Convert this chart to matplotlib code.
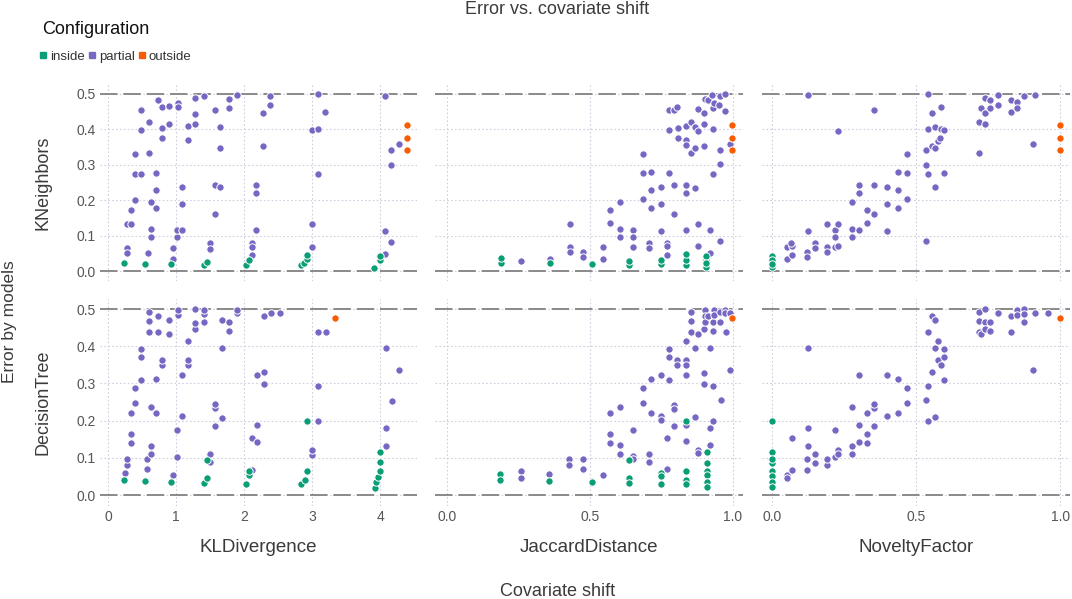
import matplotlib
matplotlib.use("Agg")
import matplotlib.pyplot as plt
from matplotlib.lines import Line2D

plt.rcParams["font.family"] = ["Liberation Sans", "DejaVu Sans"]

# colours per configuration
config_names = ["inside", "partial", "outside"]
config_colors = {"inside": "#0a9e76", "partial": "#7767c3", "outside": "#f75c03"}

row_names = ["KNeighbors", "DecisionTree"]
col_names = ["KLDivergence", "JaccardDistance", "NoveltyFactor"]

# ---- KNeighbors / KLDivergence
kn_kl_partial_x = [0.27, 0.33, 0.27, 0.27, 0.33, 0.40, 0.40, 0.49, 0.40, 0.49, 0.49, 0.60, 0.60,
                   0.63, 0.63, 0.63, 0.58, 0.70, 0.70, 0.70, 0.73, 0.79, 0.79, 0.79, 0.90, 0.90,
                   0.96, 0.96, 1.01, 1.01, 1.08, 1.03, 1.03, 1.08, 1.08, 1.17, 1.17, 1.28, 1.28,
                   1.28, 1.41, 1.50, 1.50, 1.57, 1.57, 1.57, 1.65, 1.65, 1.65, 1.77, 1.77, 1.90,
                   2.12, 2.12, 2.12, 2.18, 2.18, 2.18, 2.28, 2.28, 2.38, 2.38, 2.99, 2.99, 2.99,
                   3.08, 3.08, 3.08, 3.19, 4.07, 4.07, 4.07, 4.16, 4.16, 4.16, 4.27]
kn_kl_partial_y = [0.132, 0.134, 0.066, 0.052, 0.171, 0.202, 0.275, 0.275, 0.330, 0.399, 0.456, 0.422, 0.333,
                   0.195, 0.119, 0.096, 0.052, 0.278, 0.228, 0.178, 0.482, 0.462, 0.403, 0.375, 0.465, 0.414,
                   0.066, 0.033, 0.096, 0.115, 0.115, 0.475, 0.462, 0.236, 0.190, 0.410, 0.370, 0.489, 0.444,
                   0.416, 0.493, 0.078, 0.063, 0.456, 0.243, 0.162, 0.407, 0.348, 0.236, 0.485, 0.459, 0.498,
                   0.080, 0.069, 0.044, 0.242, 0.220, 0.116, 0.446, 0.354, 0.495, 0.469, 0.397, 0.132, 0.069,
                   0.500, 0.401, 0.273, 0.450, 0.495, 0.114, 0.049, 0.342, 0.300, 0.082, 0.359]
kn_kl_inside_x = [0.235, 0.54, 0.92, 1.41, 1.46, 2.02, 2.07, 2.83, 2.88, 2.92, 2.92, 3.91, 4.00, 4.00]
kn_kl_inside_y = [0.023, 0.020, 0.020, 0.016, 0.026, 0.017, 0.031, 0.016, 0.022, 0.033, 0.045, 0.009, 0.031, 0.043]
kn_kl_outside_x = [4.40, 4.40, 4.40]
kn_kl_outside_y = [0.412, 0.375, 0.342]

# ---- DecisionTree / KLDivergence
dt_kl_partial_x = [0.25, 0.275, 0.275, 0.33, 0.33, 0.33, 0.40, 0.40, 0.49, 0.49, 0.49, 0.575, 0.575,
                   0.60, 0.60, 0.60, 0.63, 0.63, 0.63, 0.70, 0.70, 0.73, 0.73, 0.79, 0.79, 0.90, 0.90,
                   0.96, 1.01, 1.01, 1.03, 1.03, 1.09, 1.09, 1.17, 1.17, 1.17, 1.28, 1.28, 1.28, 1.415,
                   1.415, 1.415, 1.50, 1.50, 1.57, 1.57, 1.57, 1.67, 1.67, 1.67, 1.77, 1.77, 1.90, 1.90,
                   2.12, 2.12, 2.19, 2.19, 2.19, 2.285, 2.285, 2.285, 2.39, 2.52, 3.00, 3.00, 3.09, 3.09,
                   3.09, 3.20, 4.08, 4.08, 4.08, 4.17, 4.275]
dt_kl_partial_y = [0.060, 0.080, 0.097, 0.139, 0.163, 0.221, 0.248, 0.287, 0.310, 0.372, 0.393, 0.071, 0.097,
                   0.439, 0.467, 0.492, 0.110, 0.133, 0.237, 0.221, 0.312, 0.438, 0.481, 0.349, 0.363, 0.432, 0.470,
                   0.054, 0.176, 0.102, 0.485, 0.497, 0.213, 0.324, 0.349, 0.363, 0.414, 0.446, 0.463, 0.499, 0.464,
                   0.487, 0.497, 0.088, 0.111, 0.185, 0.234, 0.245, 0.208, 0.395, 0.470, 0.441, 0.466, 0.488, 0.497,
                   0.153, 0.068, 0.144, 0.189, 0.322, 0.330, 0.298, 0.480, 0.490, 0.488, 0.109, 0.121, 0.4375, 0.293,
                   0.200, 0.438, 0.181, 0.133, 0.395, 0.254, 0.337]
dt_kl_inside_x = [0.236, 0.54, 0.92, 1.41, 1.45, 1.45, 2.03, 2.07, 2.07, 2.83, 2.89, 2.92, 2.92,
                  3.92, 3.93, 3.96, 4.00, 4.00, 4.00]
dt_kl_inside_y = [0.040, 0.0375, 0.036, 0.032, 0.046, 0.095, 0.030, 0.053, 0.064, 0.030, 0.042, 0.064, 0.200,
                  0.020, 0.035, 0.049, 0.064, 0.088, 0.115]
dt_kl_outside_x = [3.33]
dt_kl_outside_y = [0.477]

# ---- KNeighbors / JaccardDistance
kn_jd_partial_x = [0.26, 0.36, 0.43, 0.43, 0.43, 0.476, 0.476, 0.545, 0.545, 0.569, 0.569, 0.605, 0.605,
                   0.605, 0.652, 0.652, 0.652, 0.684, 0.684, 0.684, 0.707, 0.707, 0.715, 0.715, 0.715, 0.75,
                   0.75, 0.75, 0.769, 0.769, 0.769, 0.777, 0.777, 0.777, 0.792, 0.805, 0.792, 0.792, 0.806,
                   0.806, 0.834, 0.834, 0.834, 0.834, 0.834, 0.834, 0.853, 0.853, 0.867, 0.867, 0.867, 0.878,
                   0.878, 0.878, 0.878, 0.899, 0.899, 0.899, 0.902, 0.914, 0.92, 0.92, 0.929, 0.929, 0.929,
                   0.933, 0.925, 0.952, 0.955, 0.955, 0.955, 0.955, 0.972, 0.972, 0.989]
kn_jd_partial_y = [0.029, 0.034, 0.132, 0.067, 0.053, 0.053, 0.039, 0.067, 0.035, 0.171, 0.135, 0.196, 0.120,
                   0.097, 0.115, 0.097, 0.067, 0.330, 0.276, 0.203, 0.080, 0.065, 0.279, 0.230, 0.179, 0.237,
                   0.190, 0.114, 0.080, 0.070, 0.046, 0.455, 0.397, 0.276, 0.455, 0.462, 0.243, 0.162, 0.403,
                   0.376, 0.410, 0.369, 0.357, 0.242, 0.219, 0.117, 0.422, 0.333, 0.407, 0.347, 0.235, 0.458,
                   0.396, 0.132, 0.070, 0.445, 0.416, 0.353, 0.487, 0.482, 0.115, 0.050, 0.461, 0.400, 0.273,
                   0.475, 0.498, 0.470, 0.493, 0.343, 0.301, 0.084, 0.451, 0.499, 0.360]
kn_jd_inside_x = [0.189, 0.189, 0.359, 0.508, 0.638, 0.638, 0.748, 0.748, 0.837, 0.837, 0.837,
                  0.907, 0.907, 0.907, 0.907]
kn_jd_inside_y = [0.024, 0.037, 0.022, 0.021, 0.018, 0.029, 0.019, 0.032, 0.018, 0.032, 0.047,
                  0.011, 0.032, 0.043, 0.023]
kn_jd_outside_x = [0.997, 0.997, 0.997]
kn_jd_outside_y = [0.413, 0.376, 0.343]

# ---- DecisionTree / JaccardDistance
dt_jd_partial_x = [0.259, 0.259, 0.357, 0.427, 0.427, 0.475, 0.475, 0.544, 0.569, 0.569, 0.569, 0.605, 0.605,
                   0.605, 0.651, 0.651, 0.651, 0.684, 0.684, 0.705, 0.705, 0.715, 0.715, 0.75, 0.75, 0.75,
                   0.768, 0.768, 0.777, 0.777, 0.777, 0.792, 0.792, 0.792, 0.805, 0.805, 0.834, 0.834, 0.834,
                   0.834, 0.834, 0.834, 0.853, 0.853, 0.853, 0.867, 0.867, 0.878, 0.878, 0.878, 0.90, 0.90,
                   0.90, 0.903, 0.903, 0.903, 0.914, 0.92, 0.92, 0.92, 0.93, 0.93, 0.93, 0.93, 0.934, 0.934,
                   0.953, 0.955, 0.957, 0.972, 0.972, 0.975, 0.988, 0.99]
dt_jd_partial_y = [0.066, 0.046, 0.057, 0.097, 0.080, 0.097, 0.069, 0.054, 0.163, 0.139, 0.221, 0.237, 0.134,
                   0.110, 0.176, 0.104, 0.096, 0.287, 0.248, 0.111, 0.088, 0.311, 0.221, 0.324, 0.214, 0.203,
                   0.153, 0.069, 0.393, 0.372, 0.310, 0.243, 0.232, 0.185, 0.363, 0.349, 0.415, 0.363, 0.349,
                   0.323, 0.189, 0.145, 0.493, 0.468, 0.438, 0.395, 0.209, 0.432, 0.122, 0.112, 0.329, 0.299,
                   0.446, 0.497, 0.481, 0.464, 0.481, 0.396, 0.181, 0.134, 0.464, 0.441, 0.294, 0.200, 0.497, 0.484,
                   0.491, 0.466, 0.255, 0.497, 0.488, 0.439, 0.490, 0.337]
dt_jd_inside_x = [0.186, 0.186, 0.357, 0.507, 0.636, 0.636, 0.636, 0.747, 0.747, 0.747, 0.836, 0.836,
                  0.836, 0.836, 0.909, 0.909, 0.909, 0.909, 0.909, 0.909]
dt_jd_inside_y = [0.057, 0.040, 0.0375, 0.036, 0.095, 0.046, 0.032, 0.060, 0.051, 0.030, 0.200, 0.064,
                  0.042, 0.030, 0.116, 0.0875, 0.064, 0.053, 0.036, 0.021]
dt_jd_outside_x = [0.998]
dt_jd_outside_y = [0.477]

# ---- KNeighbors / NoveltyFactor
kn_nf_partial_x = [0.052, 0.052, 0.069, 0.069, 0.067, 0.12, 0.12, 0.126, 0.126, 0.149, 0.149, 0.189, 0.189,
                   0.189, 0.218, 0.218, 0.218, 0.228, 0.228, 0.228, 0.278, 0.278, 0.278, 0.30, 0.30, 0.301,
                   0.329, 0.329, 0.355, 0.355, 0.355, 0.399, 0.399, 0.399, 0.436, 0.436, 0.436, 0.467, 0.467,
                   0.467, 0.532, 0.532, 0.532, 0.542, 0.542, 0.542, 0.554, 0.554, 0.564, 0.564, 0.565, 0.576,
                   0.586, 0.586, 0.582, 0.597, 0.597, 0.719, 0.719, 0.725, 0.737, 0.737, 0.737, 0.755, 0.755,
                   0.783, 0.783, 0.828, 0.828, 0.848, 0.848, 0.874, 0.903, 0.911]
kn_nf_partial_y = [0.035, 0.067, 0.072, 0.046, 0.080, 0.054, 0.039, 0.114, 0.496, 0.080, 0.065, 0.132, 0.067,
                   0.053, 0.115, 0.097, 0.067, 0.132, 0.070, 0.396, 0.196, 0.120, 0.097, 0.243, 0.219, 0.117,
                   0.171, 0.135, 0.243, 0.162, 0.455, 0.236, 0.190, 0.114, 0.279, 0.230, 0.179, 0.330, 0.276,
                   0.203, 0.343, 0.300, 0.084, 0.400, 0.273, 0.500, 0.446, 0.352, 0.407, 0.236, 0.346, 0.368,
                   0.462, 0.402, 0.376, 0.398, 0.276, 0.333, 0.422, 0.459, 0.489, 0.445, 0.416, 0.484, 0.460,
                   0.496, 0.470, 0.484, 0.450, 0.476, 0.460, 0.493, 0.360, 0.498]
kn_nf_inside_x = [0.0, 0.0, 0.0, 0.0]
kn_nf_inside_y = [0.043, 0.032, 0.011, 0.021]
kn_nf_outside_x = [1.0, 1.0, 1.0]
kn_nf_outside_y = [0.413, 0.376, 0.343]

# ---- DecisionTree / NoveltyFactor
dt_nf_partial_x = [0.052, 0.052, 0.069, 0.069, 0.12, 0.12, 0.126, 0.126, 0.126, 0.149, 0.149, 0.189, 0.189,
                   0.218, 0.218, 0.228, 0.228, 0.278, 0.278, 0.278, 0.30, 0.30, 0.30, 0.329, 0.329, 0.329,
                   0.355, 0.355, 0.355, 0.399, 0.399, 0.436, 0.436, 0.467, 0.467, 0.532, 0.542, 0.542, 0.542,
                   0.554, 0.554, 0.565, 0.565, 0.565, 0.576, 0.576, 0.586, 0.597, 0.597, 0.597, 0.719, 0.719,
                   0.719, 0.725, 0.737, 0.737, 0.737, 0.755, 0.755, 0.783, 0.828, 0.828, 0.848, 0.848, 0.874,
                   0.874, 0.874, 0.903, 0.911, 0.957]
dt_nf_partial_y = [0.054, 0.046, 0.068, 0.153, 0.068, 0.097, 0.133, 0.181, 0.396, 0.111, 0.0875, 0.080, 0.097,
                   0.102, 0.176, 0.122, 0.110, 0.133, 0.110, 0.237, 0.144, 0.189, 0.322, 0.163, 0.139, 0.221,
                   0.185, 0.234, 0.245, 0.214, 0.324, 0.221, 0.311, 0.287, 0.248, 0.255, 0.200, 0.293, 0.4375,
                   0.330, 0.481, 0.209, 0.395, 0.470, 0.415, 0.363, 0.349, 0.393, 0.372, 0.310, 0.492, 0.467,
                   0.439, 0.432, 0.499, 0.464, 0.446, 0.466, 0.441, 0.490, 0.482, 0.439, 0.497, 0.485, 0.499,
                   0.487, 0.466, 0.337, 0.488, 0.488]
dt_nf_inside_x = [0.0, 0.0, 0.0, 0.0, 0.0, 0.0, 0.0, 0.0]
dt_nf_inside_y = [0.200, 0.115, 0.0875, 0.064, 0.051, 0.035, 0.021, 0.097]
dt_nf_outside_x = [1.0]
dt_nf_outside_y = [0.477]

panels = [
    [(kn_kl_inside_x, kn_kl_inside_y, kn_kl_partial_x, kn_kl_partial_y, kn_kl_outside_x, kn_kl_outside_y),
     (kn_jd_inside_x, kn_jd_inside_y, kn_jd_partial_x, kn_jd_partial_y, kn_jd_outside_x, kn_jd_outside_y),
     (kn_nf_inside_x, kn_nf_inside_y, kn_nf_partial_x, kn_nf_partial_y, kn_nf_outside_x, kn_nf_outside_y)],
    [(dt_kl_inside_x, dt_kl_inside_y, dt_kl_partial_x, dt_kl_partial_y, dt_kl_outside_x, dt_kl_outside_y),
     (dt_jd_inside_x, dt_jd_inside_y, dt_jd_partial_x, dt_jd_partial_y, dt_jd_outside_x, dt_jd_outside_y),
     (dt_nf_inside_x, dt_nf_inside_y, dt_nf_partial_x, dt_nf_partial_y, dt_nf_outside_x, dt_nf_outside_y)],
]

W, H = 1072, 599
fig = plt.figure(figsize=(W / 100, H / 100), dpi=100)

# axes boxes in pixels: (left, width) per column, (top, height) per row
col_box = [(100, 317), (435, 308), (762, 308)]
row_box = [(84, 197), (298.6, 207)]
col_xlim = [(-0.12, 4.54), (-0.042, 1.035), (-0.035, 1.033)]
col_xticks = [[0, 1, 2, 3, 4], [0.0, 0.5, 1.0], [0.0, 0.5, 1.0]]
col_xticklabels = [["0", "1", "2", "3", "4"], ["0.0", "0.5", "1.0"], ["0.0", "0.5", "1.0"]]
yticks = [0.0, 0.1, 0.2, 0.3, 0.4, 0.5]

tick_color = "#555555"
label_color = "#3d3a3a"
grid_color = "#cfcfe0"

for r in range(2):
    for c in range(3):
        left, width = col_box[c]
        top, height = row_box[r]
        ax = fig.add_axes([left / W, 1 - (top + height) / H, width / W, height / H])
        ax.set_xlim(*col_xlim[c])
        ax.set_ylim(-0.028, 0.528)
        for s in ax.spines.values():
            s.set_visible(False)
        ax.set_xticks(col_xticks[c])
        ax.set_yticks(yticks)
        ax.grid(True, color=grid_color, linestyle=(0, (1.5, 2)), linewidth=0.8)
        ax.set_axisbelow(True)
        ax.tick_params(length=0, labelsize=10, colors=tick_color, pad=3)
        if r == 1:
            ax.set_xticklabels(col_xticklabels[c])
        else:
            ax.set_xticklabels([])
        if c == 0:
            ax.set_yticklabels([f"{v:.1f}" for v in yticks])
        else:
            ax.set_yticklabels([])
        for yv in (0.0, 0.5):
            ax.axhline(yv, color="#8a8a8a", linewidth=1.4, linestyle=(0, (9, 3)), zorder=1)

        ix, iy, px, py, ox, oy = panels[r][c]
        for xs, ys, name in ((px, py, "partial"), (ix, iy, "inside"), (ox, oy, "outside")):
            ax.scatter(xs, ys, s=28, color=config_colors[name], edgecolors="white",
                       linewidths=0.7, zorder=3)

# row labels
for r, name in enumerate(row_names):
    top, height = row_box[r]
    fig.text(43 / W, 1 - (top + height / 2) / H, name, rotation=90, ha="center", va="center",
             fontsize=13, color=label_color)

# column labels
for c, name in enumerate(col_names):
    left, width = col_box[c]
    fig.text((left + width / 2) / W, 1 - 547 / H, name, ha="center", va="center",
             fontsize=13.5, color=label_color)

fig.text(10 / W, 1 - 322 / H, "Error by models", rotation=90, ha="center", va="center",
         fontsize=12.5, color=label_color)
fig.text(558 / W, 1 - 591 / H, "Covariate shift", ha="center", va="center",
         fontsize=13, color=label_color)
fig.text(557 / W, 1 - 10 / H, "Error vs. covariate shift", ha="center", va="center",
         fontsize=13, color=label_color)
fig.text(42 / W, 1 - 30 / H, "Configuration", ha="left", va="center", fontsize=13, color="#111111")

handles = [Line2D([], [], marker="s", linestyle="none", markersize=4,
                  color=config_colors[n], label=n) for n in config_names]
fig.legend(handles=handles, loc="center left", bbox_to_anchor=(40 / W, 1 - 57 / H), ncol=3,
           frameon=False, handlelength=0.5, handletextpad=0.3, columnspacing=0.25,
           borderpad=0, borderaxespad=0, fontsize=9.5, labelcolor="#333333")

fig.savefig("out.png", dpi=100)
